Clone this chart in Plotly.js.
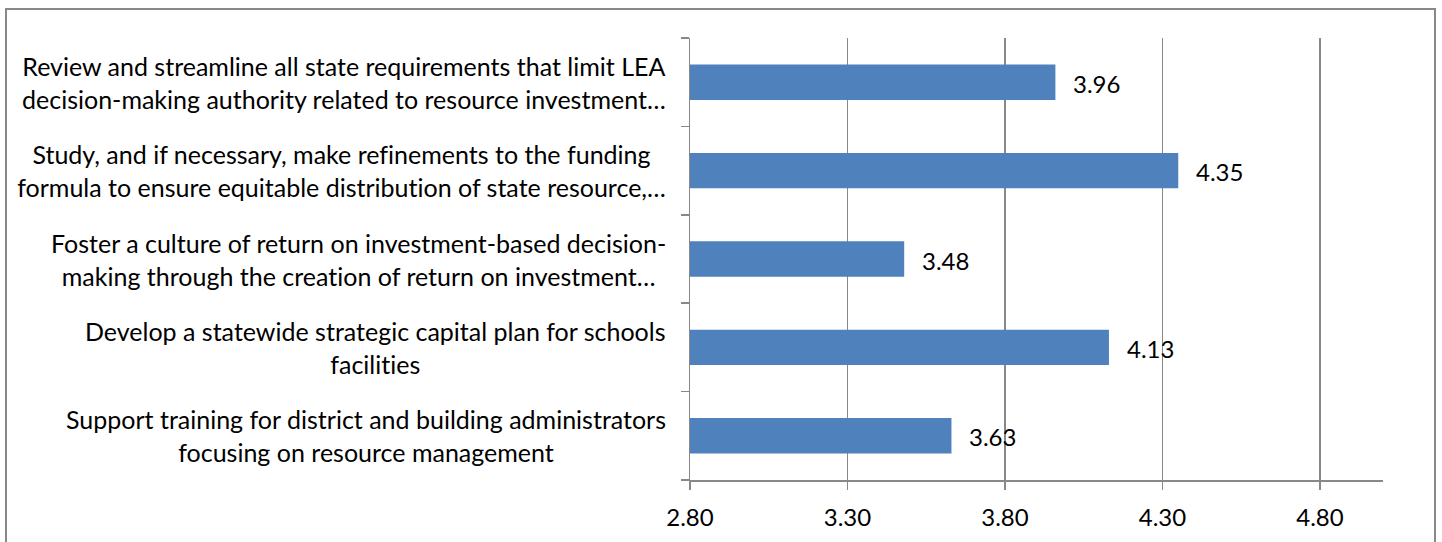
<!DOCTYPE html>
<html>
<head>
<meta charset="utf-8">
<script src="https://cdn.plot.ly/plotly-3.0.1.min.js"></script>
<style>
  html, body { margin: 0; padding: 0; background: #fff; overflow: hidden; }
  #chart { width: 1442px; height: 542px; position: absolute; left: 0; top: 0; }
  #chart svg text { font-variant-ligatures: none; font-feature-settings: "liga" 0, "clig" 0; }
  #frame { position: absolute; left: 5px; top: 8px; width: 1431px; height: 600px;
           border: 2px solid #888888; pointer-events: none; box-sizing: border-box; }
</style>
</head>
<body>
<div id="chart"></div>
<div id="frame"></div>
<script>
// Categories listed bottom to top (Plotly draws first category at bottom)
const categories = [
  "Support training for district and building administrators<br>focusing on resource management",
  "Develop a statewide strategic capital plan for schools<br>facilities",
  "Foster a culture of return on investment-based decision-<br>making through the creation of return on investment…",
  "Study, and if necessary, make refinements to the funding<br>formula to ensure equitable distribution of state resource,…",
  "Review and streamline all state requirements that limit LEA<br>decision-making authority related to resource investment…"
];
const values = [3.63, 4.13, 3.48, 4.35, 3.96];
const xTickValues = [2.80, 3.30, 3.80, 4.30, 4.80];

const FONT = "Lato, 'Open Sans', sans-serif";
const FS_LABEL = 25;
const FS_NUM = 24;
const GRID = "#888888";

const trace = {
  type: "bar",
  orientation: "h",
  x: values,
  y: categories,
  marker: { color: "#4F81BD", line: { width: 0 } },
  hoverinfo: "skip"
};

const annotations = [];
categories.forEach((c, i) => {
  annotations.push({
    xref: "x", yref: "y", x: values[i], y: c,
    text: values[i].toFixed(2), showarrow: false,
    xanchor: "left", yanchor: "middle", xshift: 16, yshift: -1,
    font: { family: FONT, size: FS_NUM, color: "#000" }
  });
  annotations.push({
    xref: "paper", yref: "y", x: 0, y: c,
    text: c, showarrow: false, align: "center",
    xanchor: "right", yanchor: "middle", xshift: -22,
    font: { family: FONT, size: FS_LABEL, color: "#000" }
  });
});

const layout = {
  width: 1442, height: 542,
  margin: { l: 690, r: 59, t: 38, b: 62 },
  paper_bgcolor: "rgba(0,0,0,0)",
  plot_bgcolor: "#ffffff",
  showlegend: false,
  bargap: 0.6,
  font: { family: FONT, size: FS_NUM, color: "#000" },
  xaxis: {
    range: [2.8, 5.0],
    tickvals: xTickValues,
    ticktext: xTickValues.map(v => v.toFixed(2)),
    showgrid: true, gridcolor: GRID, gridwidth: 1.5,
    showline: true, linecolor: GRID, linewidth: 1.5,
    ticks: "outside", ticklen: 8, tickcolor: GRID, tickwidth: 1.5,
    ticklabelstandoff: 8,
    zeroline: false,
    tickfont: { family: FONT, size: FS_NUM, color: "#000" },
    fixedrange: true
  },
  yaxis: {
    type: "category",
    categoryorder: "array",
    categoryarray: categories,
    showticklabels: false,
    tickson: "boundaries",
    ticks: "outside", ticklen: 8, tickcolor: GRID, tickwidth: 1.5,
    showline: true, linecolor: GRID, linewidth: 1.5,
    showgrid: false, zeroline: false,
    fixedrange: true
  },
  annotations: annotations
};

Plotly.newPlot("chart", [trace], layout, { displayModeBar: false, staticPlot: true });
</script>
</body>
</html>
